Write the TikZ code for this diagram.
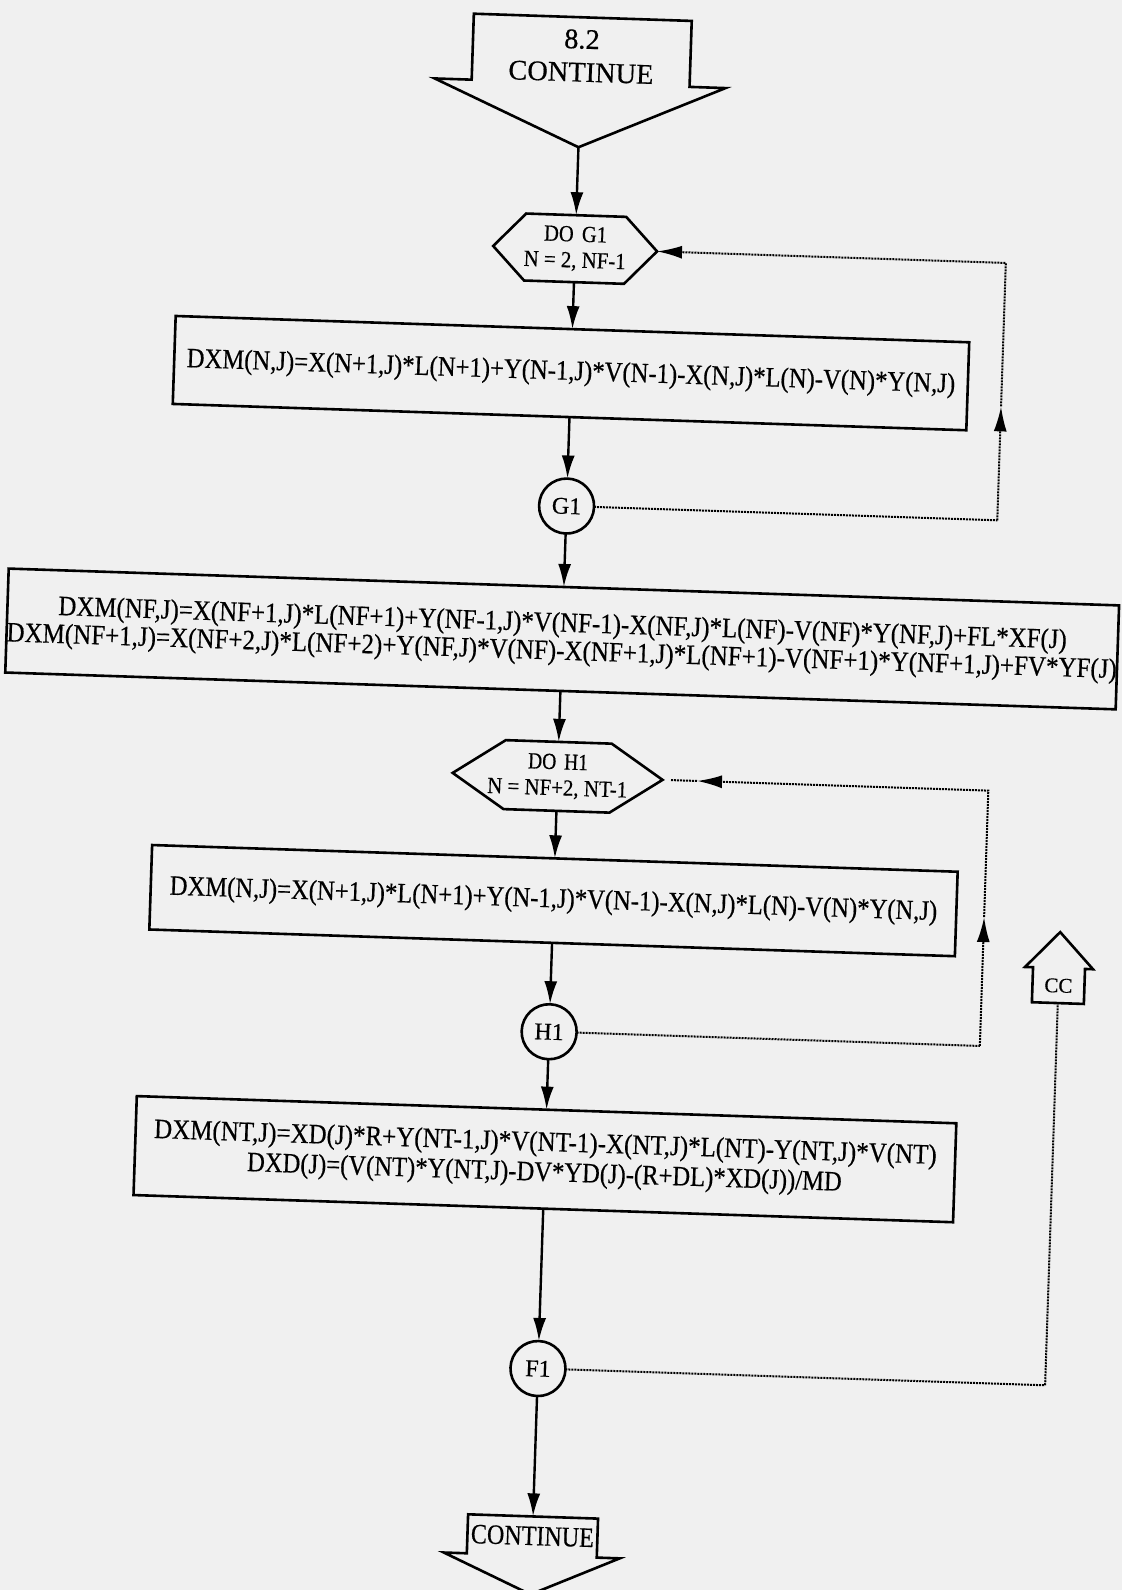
\documentclass[tikz,border=0pt]{standalone}
\usepackage{fontspec}
\setmainfont{Liberation Serif}[FakeBold=0.5]
\usepackage{graphicx}
\usetikzlibrary{arrows.meta}

% set a line of text to a given width (in pt), keeping its natural height
\newcommand\fitw[2]{\resizebox{#1pt}{\height}{#2}}

\begin{document}
\begin{tikzpicture}[x=1pt,y=-1pt,
  every node/.style={transform shape, inner sep=0pt, outer sep=0pt},
  shapeline/.style={line width=2.6pt, line join=miter},
  flow/.style={line width=2.4pt, -{Latex[length=23pt,width=13pt]}},
  loopline/.style={line width=2pt, dash pattern=on 2pt off 1pt},
  looparrow/.style={loopline, -{Latex[length=25pt,width=13pt]}},
  boxtxt/.style={font=\fontsize{28pt}{28pt}\selectfont, align=center},
  procbox/.style={draw, shapeline, rectangle, boxtxt},
  hextxt/.style={font=\fontsize{23pt}{26pt}\selectfont, align=center},
  connector/.style={draw, shapeline, circle, minimum size=55pt,
    font=\fontsize{24pt}{24pt}\selectfont},
]
% paper
\fill[black!6] (0,0) rectangle (1122,1590);
\useasboundingbox (0,0) rectangle (1122,1590);

\begin{scope}[rotate around={-1.9:(561,795)}]

% ---- entry: off-page connector 8.2 ----
\draw[shapeline] (448,17) -- (666,17) -- (666,83) -- (702,83) -- (557,147)
  -- (411,83) -- (448,83) -- cycle;
\node[font=\fontsize{28.4pt}{33pt}\selectfont, align=center] (start) at (557,55.5)
  {8.2\\CONTINUE};
\coordinate (startTip) at (557,147);

% ---- loop G1 ----
\draw[shapeline] (475,248.5) -- (507,215) -- (607,215) -- (639,248.5)
  -- (607,282) -- (507,282) -- cycle;
\node[hextxt, minimum width=164pt, minimum height=67pt] (doG) at (557,248.5)
  {\fitw{63}{DO\hspace{0.4em}G1}\\\fitw{102}{N = 2, NF-1}};

\node[procbox, minimum width=794pt, minimum height=88pt] (b1) at (557,373)
  {\fitw{769}{DXM(N,J)=X(N+1,J)*L(N+1)+Y(N-1,J)*V(N-1)-X(N,J)*L(N)-V(N)*Y(N,J)}};

\node[connector] (G1c) at (557,506) {G1};

\node[procbox, minimum width=1110pt, minimum height=104pt] (b2) at (557,639)
  {\fitw{1009}{DXM(NF,J)=X(NF+1,J)*L(NF+1)+Y(NF-1,J)*V(NF-1)-X(NF,J)*L(NF)-V(NF)*Y(NF,J)+FL*XF(J)}\\
   \fitw{1111}{DXM(NF+1,J)=X(NF+2,J)*L(NF+2)+Y(NF,J)*V(NF)-X(NF+1,J)*L(NF+1)-V(NF+1)*Y(NF+1,J)+FV*YF(J)}};

% ---- loop H1 ----
\draw[shapeline] (452,776.5) -- (504,742) -- (610,742) -- (662,776.5)
  -- (610,811) -- (504,811) -- cycle;
\node[hextxt, minimum width=210pt, minimum height=69pt] (doH) at (557,776.5)
  {\fitw{60}{DO\hspace{0.4em}H1}\\\fitw{140}{N = NF+2, NT-1}};

\node[procbox, minimum width=806pt, minimum height=84.5pt] (b3) at (557,900.8)
  {\fitw{768}{DXM(N,J)=X(N+1,J)*L(N+1)+Y(N-1,J)*V(N-1)-X(N,J)*L(N)-V(N)*Y(N,J)}};

\node[connector] (H1c) at (557,1032) {H1};

\node[procbox, minimum width=820pt, minimum height=99pt,
      font=\fontsize{28pt}{30pt}\selectfont] (b4) at (557,1159.5)
  {\fitw{783}{DXM(NT,J)=XD(J)*R+Y(NT-1,J)*V(NT-1)-X(NT,J)*L(NT)-Y(NT,J)*V(NT)}\\
   \fitw{595}{DXD(J)=(V(NT)*Y(NT,J)-DV*YD(J)-(R+DL)*XD(J))/MD}};

\node[connector] (F1c) at (557,1369) {F1};

% ---- exit: off-page connector ----
\draw[shapeline] (492,1517) -- (622,1517) -- (622,1556) -- (645,1556) -- (557,1595)
  -- (469,1556) -- (492,1556) -- cycle;
\node[minimum width=130pt, minimum height=39pt,
      font=\fontsize{28pt}{28pt}\selectfont] (endc) at (557,1536.5)
  {\fitw{123}{CONTINUE}};

% ---- off-page connector CC ----
\draw[shapeline] (1038.5,986.5) -- (1038.5,951.5) -- (1030.5,951.5) -- (1064.5,915.5)
  -- (1098.5,951.5) -- (1090.5,951.5) -- (1090.5,986.5) -- cycle;
\node[minimum width=52pt, minimum height=35pt,
      font=\fontsize{21pt}{21pt}\selectfont] (cc) at (1064.5,969) {CC};

% ---- main flow ----
\draw[flow] (startTip) -- (doG.north);
\draw[flow] (doG.south) -- (b1.north);
\draw[flow] (b1.south) -- (G1c.north);
\draw[flow] (G1c.south) -- (b2.north);
\draw[flow] (b2.south) -- (doH.north);
\draw[flow] (doH.south) -- (b3.north);
\draw[flow] (b3.south) -- (H1c.north);
\draw[flow] (H1c.south) -- (b4.north);
\draw[flow] (b4.south) -- (F1c.north);
\draw[flow] (F1c.south) -- (endc.north);

% ---- loop return G1 ----
\coordinate (gLow) at (988,506);
\coordinate (gMid) at (988,392);
\coordinate (gHigh) at (988,248.5);
\draw[loopline] (G1c.east) -- (gLow);
\draw[looparrow] (gLow) -- (gMid);
\draw[looparrow] (gMid) -- (gHigh) -- (doG.east);

% ---- loop return H1 ----
\coordinate (hLow) at (988,1032);
\coordinate (hMid) at (988,903);
\coordinate (hHigh) at (988,776.5);
\coordinate (hTip) at (696.5,776.5);
\coordinate (hGap) at (670,776.5);
\draw[loopline] (H1c.east) -- (hLow);
\draw[looparrow] (hLow) -- (hMid);
\draw[looparrow] (hMid) -- (hHigh) -- (hTip);
\draw[loopline] (hTip) -- (hGap);

% ---- F1 to CC ----
\coordinate (ccLow) at (1064.5,1369);
\draw[loopline] (F1c.east) -- (ccLow) -- (cc.south);

\end{scope}
\end{tikzpicture}
\end{document}
